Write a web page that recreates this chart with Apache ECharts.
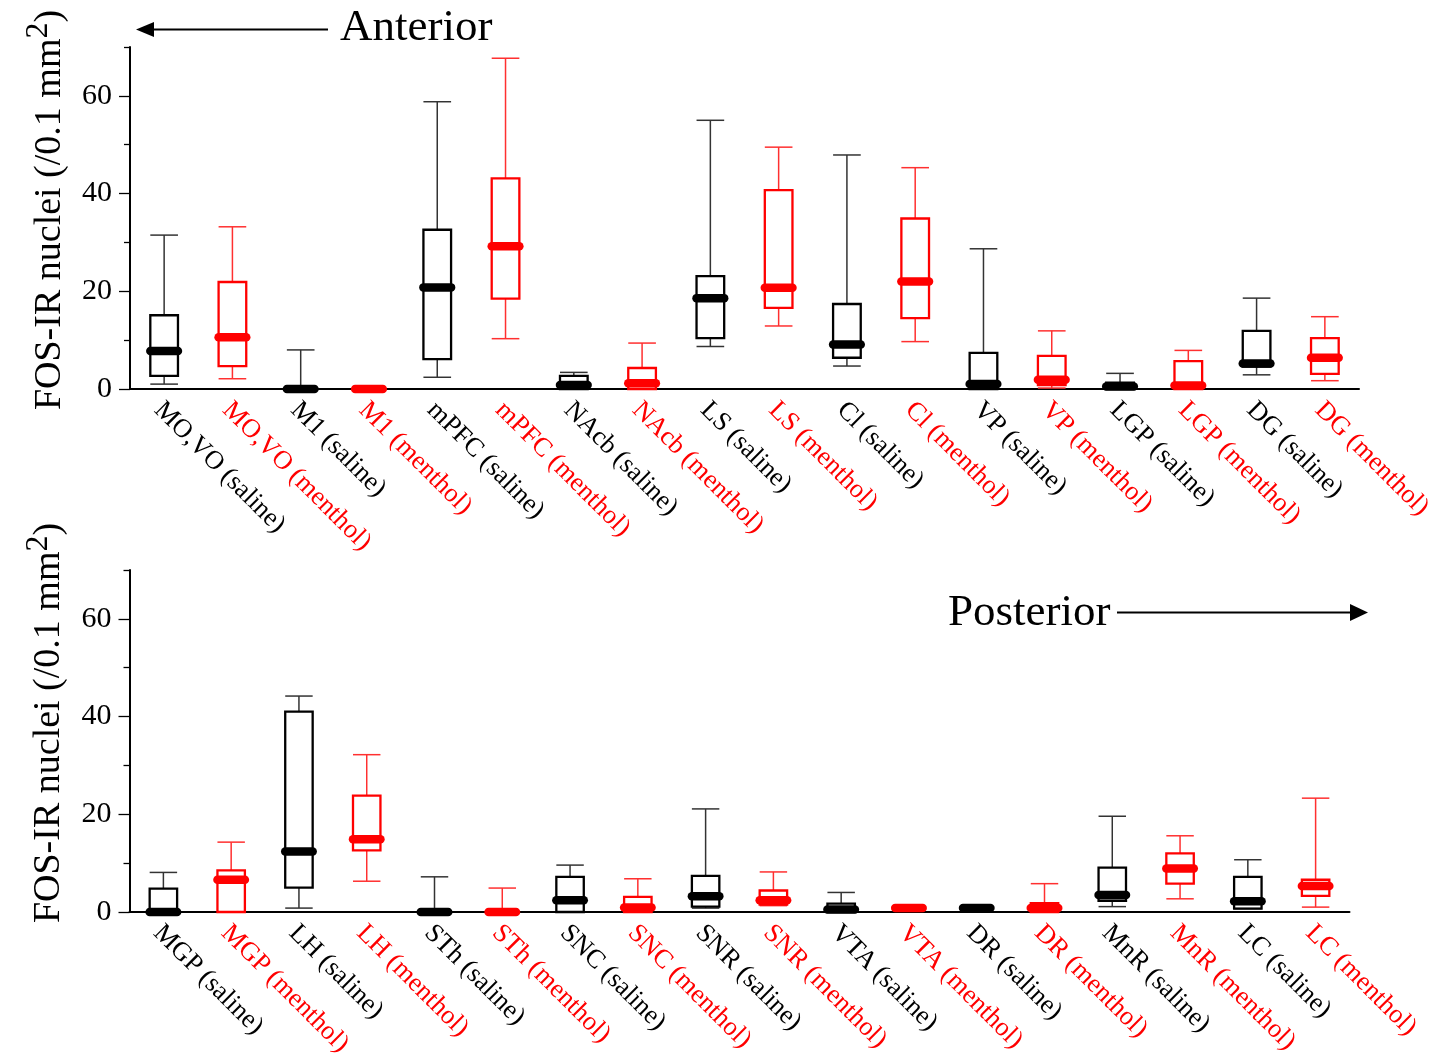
<!DOCTYPE html>
<html><head><meta charset="utf-8">
<script src="https://cdn.jsdelivr.net/npm/echarts@6/dist/echarts.min.js"></script>
<style>html,body{margin:0;padding:0;background:#fff}#c{width:1444px;height:1053px}</style>
</head><body><div id="c"></div>
<script>
// ---------- data ----------
const topCategories = ['MO,VO (saline)','MO,VO (menthol)','M1 (saline)','M1 (menthol)','mPFC (saline)','mPFC (menthol)','NAcb (saline)','NAcb (menthol)','LS (saline)','LS (menthol)','Cl (saline)','Cl (menthol)','VP (saline)','VP (menthol)','LGP (saline)','LGP (menthol)','DG (saline)','DG (menthol)'];
const topMax    = [31.5, 33.2, 8.0, 0, 58.8, 67.7, 3.4, 9.4, 55.0, 49.5, 47.9, 45.3, 28.7, 11.9, 3.2, 7.9, 18.6, 14.8];
const topQ3     = [15.1, 21.9, 0, 0, 32.6, 43.1, 2.7, 4.3, 23.1, 40.7, 17.4, 34.9, 7.4, 6.8, 1.3, 5.7, 11.9, 10.4];
const topMedian = [7.8, 10.6, 0, 0, 20.8, 29.2, 0.8, 1.2, 18.6, 20.7, 9.1, 22.0, 1.0, 1.9, 0.5, 0.7, 5.2, 6.4];
const topQ1     = [2.7, 4.7, 0, 0, 6.1, 18.5, 0, 0, 10.4, 16.6, 6.4, 14.5, 0, 0.8, 0, 0, 4.6, 3.1];
const topMin    = [1.0, 2.1, 0, 0, 2.4, 10.3, 0, 0, 8.7, 12.9, 4.7, 9.7, 0, 0.2, 0, 0, 2.9, 1.7];

const bottomCategories = ['MGP (saline)','MGP (menthol)','LH (saline)','LH (menthol)','STh (saline)','STh (menthol)','SNC (saline)','SNC (menthol)','SNR (saline)','SNR (menthol)','VTA (saline)','VTA (menthol)','DR (saline)','DR (menthol)','MnR (saline)','MnR (menthol)','LC (saline)','LC (menthol)'];
const bottomMax    = [8.1, 14.3, 44.2, 32.2, 7.2, 4.9, 9.6, 6.8, 21.1, 8.2, 4.0, 1.1, 1.0, 5.8, 19.6, 15.6, 10.7, 23.3];
const bottomQ3     = [4.8, 8.5, 41.0, 23.8, 0, 0, 7.2, 3.1, 7.4, 4.4, 1.7, 1.0, 1.0, 1.8, 9.1, 12.0, 7.2, 6.6];
const bottomMedian = [0, 6.6, 12.4, 14.9, 0, 0, 2.4, 0.9, 3.2, 2.4, 0.5, 0.8, 0.8, 0.8, 3.5, 8.9, 2.2, 5.3];
const bottomQ1     = [0, 0, 5.0, 12.6, 0, 0, 0, 0, 1.1, 1.5, 0, 0.6, 0.5, 0, 2.3, 5.8, 0.7, 3.3];
const bottomMin    = [0, 0, 0.8, 6.3, 0, 0, 0, 0, 0.8, 1.3, 0, 0.5, 0.5, 0, 1.1, 2.7, 0.7, 1.0];

const yMajorTicks = [0, 20, 40, 60];
const yMinorTicks = [10, 30, 50, 70];
const yTitle = '{m|FOS-IR nuclei (/0.1 mm}{s|2}{m|)}';

// ---------- styling ----------
const FONT = 'Liberation Serif';
const BLACK = '#000000', RED = '#ff0000';
function isMenthol(name) { return name.indexOf('menthol') >= 0; }

function buildData(cats, mn, q1, md, q3, mx) {
  return cats.map((c, i) => [i, mn[i], q1[i], md[i], q3[i], mx[i]]);
}

function renderBox(cats) {
  return function (params, api) {
    const i = api.value(0);
    const m = isMenthol(cats[i]);
    const col = m ? RED : BLACK;
    const wcol = m ? '#ff3030' : '#333333';
    const w = api.size([1, 0])[0] * 0.405;
    const x = api.coord([i, 0])[0];
    const yMin = api.coord([i, api.value(1)])[1];
    const yQ1 = api.coord([i, api.value(2)])[1];
    const yMed = api.coord([i, api.value(3)])[1];
    const yQ3 = api.coord([i, api.value(4)])[1];
    const yMax = api.coord([i, api.value(5)])[1];
    const ws = { stroke: wcol, lineWidth: 1.5 };
    return {
      type: 'group',
      children: [
        { type: 'line', shape: { x1: x, y1: yMax, x2: x, y2: yQ3 }, style: ws },
        { type: 'line', shape: { x1: x, y1: yQ1, x2: x, y2: yMin }, style: ws },
        { type: 'line', shape: { x1: x - w / 2, y1: yMax, x2: x + w / 2, y2: yMax }, style: ws },
        { type: 'line', shape: { x1: x - w / 2, y1: yMin, x2: x + w / 2, y2: yMin }, style: ws },
        { type: 'rect', shape: { x: x - w / 2, y: yQ3, width: w, height: yQ1 - yQ3 }, style: { fill: 'rgba(0,0,0,0)', stroke: col, lineWidth: 2.3 } },
        { type: 'line', shape: { x1: x - w / 2, y1: yMed, x2: x + w / 2, y2: yMed }, style: { stroke: col, lineWidth: 8.5, lineCap: 'round' } }
      ]
    };
  };
}

function xAxisCfg(gridIndex, cats) {
  return {
    type: 'category', gridIndex: gridIndex, data: cats, boundaryGap: true,
    axisLine: { lineStyle: { color: '#000', width: 2 } },
    axisTick: { alignWithLabel: true, length: 10, lineStyle: { color: '#000', width: 1.3 } },
    axisLabel: {
      interval: 0, rotate: -45, fontFamily: FONT, fontSize: 26.5, margin: 11,
      verticalAlign: 'top', lineHeight: 17,
      color: function (v) { return isMenthol(v) ? RED : BLACK; }
    },
    splitLine: { show: false }
  };
}

function yAxesCfg(gridIndex, shift) {
  return [
    {
      type: 'value', gridIndex: gridIndex, min: 0, max: 70, position: 'left',
      axisLine: { show: true, lineStyle: { color: '#000', width: 2 } },
      axisTick: { show: true, length: 11, customValues: yMajorTicks, lineStyle: { color: '#000', width: 1.3 } },
      axisLabel: { customValues: yMajorTicks, fontFamily: FONT, fontSize: 30, color: '#000', margin: 18 },
      splitLine: { show: false },
      name: yTitle, nameLocation: 'middle', nameGap: 53,
      nameTextStyle: {
        fontFamily: FONT, fontSize: 38, color: '#000',
        padding: [0, 0, 0, shift],
        rich: {
          m: { fontFamily: FONT, fontSize: 38, color: '#000', lineHeight: 54 },
          s: { fontFamily: FONT, fontSize: 32, color: '#000', lineHeight: 40, verticalAlign: 'top' }
        }
      }
    },
    {
      type: 'value', gridIndex: gridIndex, min: 0, max: 70, position: 'left',
      axisLine: { show: false },
      axisTick: { show: true, length: 6, customValues: yMinorTicks, lineStyle: { color: '#000', width: 1.3 } },
      axisLabel: { show: false },
      splitLine: { show: false }
    }
  ];
}

const chart = echarts.init(document.getElementById('c'), null, { renderer: 'canvas' });
chart.setOption({
  animation: false,
  backgroundColor: '#fff',
  grid: [
    { left: 130, top: 47, width: 1229, height: 342, containLabel: false, outerBoundsMode: 'none' },
    { left: 129.5, top: 570, width: 1220, height: 342, containLabel: false, outerBoundsMode: 'none' }
  ],
  xAxis: [xAxisCfg(0, topCategories), xAxisCfg(1, bottomCategories)],
  yAxis: yAxesCfg(0, 16).concat(yAxesCfg(1, 36)),
  series: [
    {
      type: 'custom', xAxisIndex: 0, yAxisIndex: 0, clip: false,
      renderItem: renderBox(topCategories),
      encode: { x: 0, y: [1, 2, 3, 4, 5] },
      data: buildData(topCategories, topMin, topQ1, topMedian, topQ3, topMax)
    },
    {
      type: 'custom', xAxisIndex: 1, yAxisIndex: 2, clip: false,
      renderItem: renderBox(bottomCategories),
      encode: { x: 0, y: [1, 2, 3, 4, 5] },
      data: buildData(bottomCategories, bottomMin, bottomQ1, bottomMedian, bottomQ3, bottomMax)
    }
  ],
  graphic: [
    { type: 'text', x: 340, y: 28, style: { text: 'Anterior', fontFamily: FONT, fontSize: 45, fill: '#000', align: 'left', verticalAlign: 'middle' } },
    { type: 'line', shape: { x1: 150, y1: 29.5, x2: 328, y2: 29.5 }, style: { stroke: '#000', lineWidth: 2 } },
    { type: 'polygon', shape: { points: [[136, 29.5], [154, 22], [154, 37]] }, style: { fill: '#000' } },
    { type: 'text', x: 948, y: 613, style: { text: 'Posterior', fontFamily: FONT, fontSize: 45, fill: '#000', align: 'left', verticalAlign: 'middle' } },
    { type: 'line', shape: { x1: 1117, y1: 612.5, x2: 1352, y2: 612.5 }, style: { stroke: '#000', lineWidth: 2 } },
    { type: 'polygon', shape: { points: [[1368, 612.5], [1350, 604], [1350, 621]] }, style: { fill: '#000' } }
  ]
});
</script>
</body></html>
